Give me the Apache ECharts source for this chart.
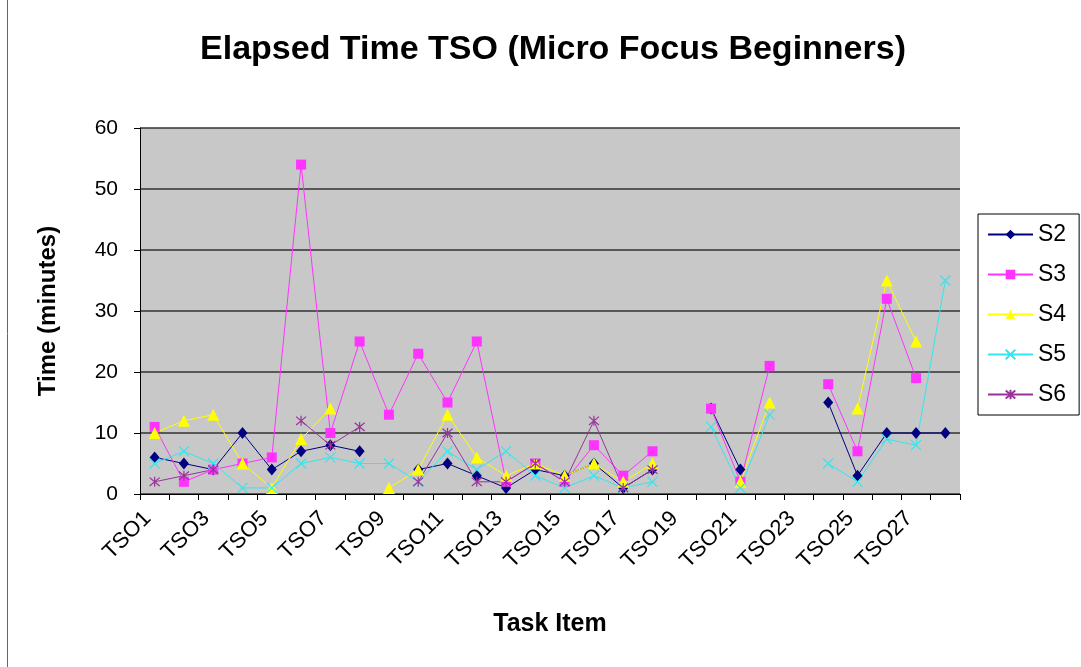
<!DOCTYPE html>
<html>
<head>
<meta charset="utf-8">
<script src="https://cdn.jsdelivr.net/npm/echarts@6/dist/echarts.min.js"></script>
<style>
html,body{margin:0;padding:0;background:#fff;}
#c{width:1081px;height:667px;}
</style>
</head>
<body>
<div id="c"></div>
<script>
const categories = ['TSO1','TSO2','TSO3','TSO4','TSO5','TSO6','TSO7','TSO8','TSO9','TSO10','TSO11','TSO12','TSO13','TSO14','TSO15','TSO16','TSO17','TSO18','TSO19','TSO20','TSO21','TSO22','TSO23','TSO24','TSO25','TSO26','TSO27','TSO28'];
const S2 = [6,5,4,10,4,7,8,7,null,4,5,3,1,4,3,5,1,4,null,14,4,null,null,15,3,10,10,10];
const S3 = [11,2,4,5,6,54,10,25,13,23,15,25,2,5,2,8,3,7,null,14,2,21,null,18,7,32,19,null];
const S4 = [10,12,13,5,1,9,14,null,1,4,13,6,3,5,3,5,2,5,null,null,2,15,null,null,14,35,25,null];
const S5 = [5,7,5,1,1,5,6,5,5,2,7,4,7,3,1,3,1,2,null,11,1,13,null,5,2,9,8,35];
const S6 = [2,3,4,null,null,12,8,11,null,2,10,2,2,5,2,12,1,4,null,null,null,null,null,null,null,null,null,null];
const yTicks = [0,10,20,30,40,50,60];

const chart = echarts.init(document.getElementById('c'));
const FONT = 'Liberation Sans, Arial, sans-serif';

function mk(name, data, color, symbol, size, stroke) {
  return {
    name: name, type: 'line', data: data,
    connectNulls: false,
    symbol: symbol, symbolSize: size,
    lineStyle: {color: color, width: 1},
    itemStyle: stroke ? {color: 'rgba(0,0,0,0)', borderColor: color, borderWidth: 1.2} : {color: color, borderWidth: 0},
    emphasis: {disabled: true},
    animation: false
  };
}

chart.setOption({
  backgroundColor: '#fff',
  animation: false,
  title: {
    text: 'Elapsed Time TSO (Micro Focus Beginners)',
    left: 548, top: 28, textAlign: 'center',
    textStyle: {fontFamily: FONT, fontSize: 34, fontWeight: 'bold', color: '#000'}
  },
  graphic: [{
    type: 'line', shape: {x1: 7.5, y1: 0, x2: 7.5, y2: 667},
    style: {stroke: '#666', lineWidth: 1}, silent: true
  }],
  legend: {
    orient: 'vertical', left: 978, top: 214,
    padding: [9, 13, 9, 9],
    itemWidth: 45, itemHeight: 12, itemGap: 17,
    borderColor: '#000', borderWidth: 1,
    textStyle: {fontFamily: FONT, fontSize: 23, color: '#000'},
    data: ['S2','S3','S4','S5','S6']
  },
  grid: {left: 140, right: 121, top: 128, bottom: 173, show: true, backgroundColor: '#c8c8c8', borderWidth: 0},
  xAxis: {
    type: 'category', data: categories, boundaryGap: true,
    name: 'Task Item', nameLocation: 'middle', nameGap: 118,
    nameTextStyle: {fontFamily: FONT, fontSize: 25, fontWeight: 'bold', color: '#000'},
    axisLine: {lineStyle: {color: '#000', width: 1}},
    axisTick: {show: true, alignWithLabel: false, interval: 0, length: 6, lineStyle: {color: '#000'}},
    axisLabel: {interval: 1, rotate: 45, margin: 14, padding: [0, 10, 0, 0], fontFamily: FONT, fontSize: 22, color: '#000'},
    splitLine: {show: false}
  },
  yAxis: {
    type: 'value', min: 0, max: 60, interval: 10,
    name: 'Time (minutes)', nameLocation: 'middle', nameGap: 80,
    nameTextStyle: {fontFamily: FONT, fontSize: 24, fontWeight: 'bold', color: '#000'},
    axisLine: {show: true, lineStyle: {color: '#000', width: 1}},
    axisTick: {show: true, length: 6, lineStyle: {color: '#000'}},
    axisLabel: {fontFamily: FONT, fontSize: 21, color: '#000', margin: 22,
      formatter: function(v){ return yTicks.indexOf(v) >= 0 ? String(v) : ''; }},
    splitLine: {show: true, lineStyle: {color: '#333', width: 1.5}}
  },
  series: [
    mk('S2', S2, '#000080', 'diamond', [10, 12], false),
    mk('S3', S3, '#ff33ff', 'rect', 10, false),
    mk('S4', S4, '#ffff00', 'triangle', 12, false),
    mk('S5', S5, '#33e6ee', 'path://M0,0L10,10M10,0L0,10', 10, true),
    mk('S6', S6, '#993399', 'path://M0,0L10,10M10,0L0,10M5,-1L5,11', 10, true)
  ]
});
</script>
</body>
</html>
